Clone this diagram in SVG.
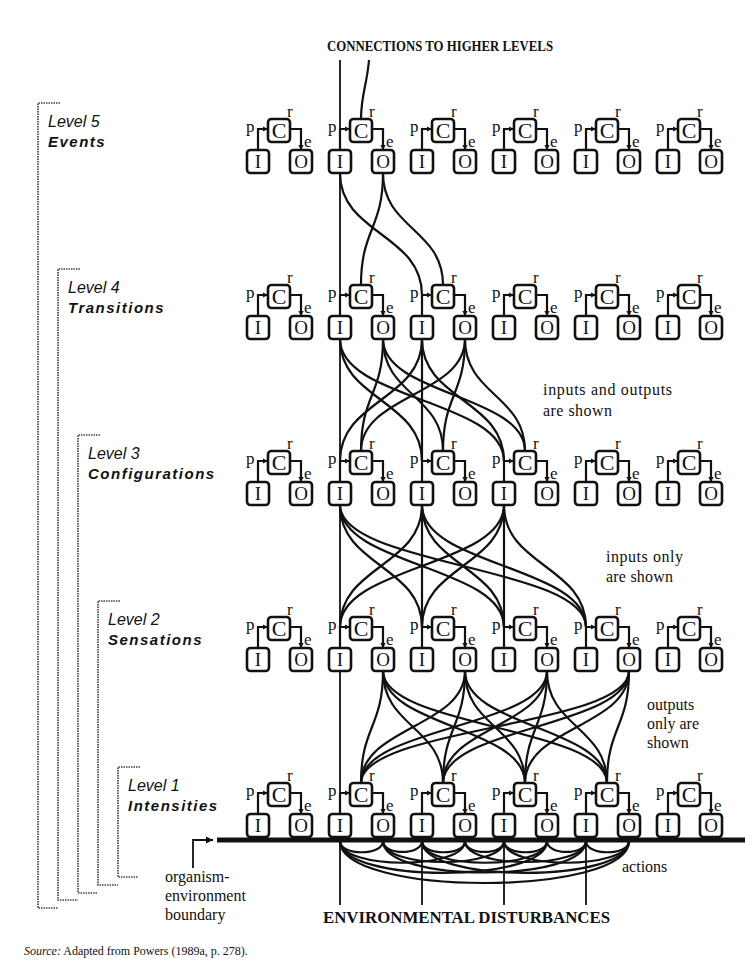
<svg xmlns="http://www.w3.org/2000/svg" width="745" height="965" viewBox="0 0 745 965">
<style>
  .b{fill:#fff;stroke:#111;stroke-width:2.6}
  .w{fill:none;stroke:#111;stroke-width:2.2;marker-start:url(#ah);marker-end:url(#ah)}
  .k{fill:none;stroke:#111;stroke-width:2.2}
  .t{fill:none;stroke:#111;stroke-width:1.8}
  .br{fill:none;stroke:#444;stroke-width:1.7;stroke-dasharray:1.5 1}
  .L{font-family:"Liberation Serif",serif;font-size:19px;text-anchor:middle;fill:#111}
  .c{font-size:22px}
  .s{font-family:"Liberation Serif",serif;font-size:17px;fill:#111}
  .lv{font-family:"Liberation Sans",sans-serif;font-style:italic;font-size:16px;fill:#111}
  .nm{font-family:"Liberation Sans",sans-serif;font-style:italic;font-weight:bold;font-size:15px;letter-spacing:1.5px;fill:#111}
  .cap{font-family:"Liberation Serif",serif;font-weight:bold;fill:#111}
  .note{font-family:"Liberation Serif",serif;font-size:16px;fill:#111}
</style>
<defs>
  <marker id="ah" markerWidth="7" markerHeight="7" refX="5" refY="3" orient="auto-start-reverse" markerUnits="userSpaceOnUse">
    <path d="M0,0.4L5,3L0,5.6z" fill="#111"/>
  </marker>
  <marker id="ah2" markerWidth="9" markerHeight="9" refX="7" refY="4" orient="auto" markerUnits="userSpaceOnUse">
    <path d="M0,0.5L7,4L0,7.5z" fill="#111"/>
  </marker>
</defs>
<rect width="745" height="965" fill="#fff"/>

<!-- level brackets -->
<g id="brackets">
  <path class="br" d="M60,103H38V908H58"/>
  <path class="br" d="M80,269H58V900H78"/>
  <path class="br" d="M100,435H78V893H98"/>
  <path class="br" d="M120,601H98V885H118"/>
  <path class="br" d="M140,767H118V877H138"/>
</g>

<!-- level names -->
<g id="level-labels">
  <text class="lv" x="48" y="127">Level 5</text>
  <text class="nm" x="48" y="147">Events</text>
  <text class="lv" x="68" y="293">Level 4</text>
  <text class="nm" x="68" y="313">Transitions</text>
  <text class="lv" x="88" y="459">Level 3</text>
  <text class="nm" x="88" y="479">Configurations</text>
  <text class="lv" x="108" y="625">Level 2</text>
  <text class="nm" x="108" y="645">Sensations</text>
  <text class="lv" x="128" y="791">Level 1</text>
  <text class="nm" x="128" y="811">Intensities</text>
</g>

<!-- captions -->
<g id="captions">
  <text class="cap" x="327" y="51" font-size="14.5" textLength="226" lengthAdjust="spacingAndGlyphs">CONNECTIONS TO HIGHER LEVELS</text>
  <text class="cap" x="323" y="923" font-size="16" textLength="287" lengthAdjust="spacingAndGlyphs">ENVIRONMENTAL DISTURBANCES</text>
  <text class="note" x="543" y="395" textLength="129" lengthAdjust="spacing">inputs and outputs</text>
  <text class="note" x="543" y="416" textLength="69" lengthAdjust="spacing">are shown</text>
  <text class="note" x="606" y="562" textLength="77" lengthAdjust="spacing">inputs only</text>
  <text class="note" x="606" y="582" textLength="67" lengthAdjust="spacing">are shown</text>
  <text class="note" x="647" y="710">outputs</text>
  <text class="note" x="647" y="729">only are</text>
  <text class="note" x="647" y="748">shown</text>
  <text class="note" x="622" y="872">actions</text>
  <text class="note" x="165" y="882">organism-</text>
  <text class="note" x="165" y="901">environment</text>
  <text class="note" x="165" y="920">boundary</text>
</g>

<!-- connectors between levels -->
<g id="connectors">
  <path class="t" d="M340,60V905"/>
  <path class="k" d="M369,60C367,85 361,95 361,119"/>
  <!-- level 5 to level 4 -->
  <path class="k" d="M340,173C340,234 422,234 422,295"/>
  <path class="k" d="M383,173C383,229 361,229 361,285"/>
  <path class="k" d="M383,173C383,229 443,229 443,285"/>
  <!-- level 4 to level 3 -->
  <path class="k" d="M340,339C340,400 422,400 422,461"/>
  <path class="k" d="M340,339C340,400 504,400 504,461"/>
  <path class="k" d="M422,339C422,400 340,400 340,461"/>
  <path class="k" d="M422,339V461"/>
  <path class="k" d="M422,339C422,400 504,400 504,461"/>
  <path class="k" d="M383,339C383,395 361,395 361,451"/>
  <path class="k" d="M383,339C383,395 443,395 443,451"/>
  <path class="k" d="M383,339C383,395 525,395 525,451"/>
  <path class="k" d="M465,339C465,395 361,395 361,451"/>
  <path class="k" d="M465,339C465,395 443,395 443,451"/>
  <path class="k" d="M465,339C465,395 525,395 525,451"/>
  <!-- level 3 to level 2 -->
  <path class="k" d="M340,505C340,566 422,566 422,627"/>
  <path class="k" d="M340,505C340,566 504,566 504,627"/>
  <path class="k" d="M340,505C340,566 586,566 586,627"/>
  <path class="k" d="M422,505C422,566 340,566 340,627"/>
  <path class="k" d="M422,505V627"/>
  <path class="k" d="M422,505C422,566 504,566 504,627"/>
  <path class="k" d="M422,505C422,566 586,566 586,627"/>
  <path class="k" d="M504,505C504,566 340,566 340,627"/>
  <path class="k" d="M504,505C504,566 422,566 422,627"/>
  <path class="k" d="M504,505V627"/>
  <path class="k" d="M504,505C504,566 586,566 586,627"/>
  <!-- level 2 to level 1 -->
  <path class="k" d="M383,671C383,727 361,727 361,783"/>
  <path class="k" d="M383,671C383,727 443,727 443,783"/>
  <path class="k" d="M383,671C383,727 525,727 525,783"/>
  <path class="k" d="M383,671C383,727 607,727 607,783"/>
  <path class="k" d="M465,671C465,727 361,727 361,783"/>
  <path class="k" d="M465,671C465,727 443,727 443,783"/>
  <path class="k" d="M465,671C465,727 525,727 525,783"/>
  <path class="k" d="M465,671C465,727 607,727 607,783"/>
  <path class="k" d="M547,671C547,727 361,727 361,783"/>
  <path class="k" d="M547,671C547,727 443,727 443,783"/>
  <path class="k" d="M547,671C547,727 525,727 525,783"/>
  <path class="k" d="M547,671C547,727 607,727 607,783"/>
  <path class="k" d="M629,671C629,727 361,727 361,783"/>
  <path class="k" d="M629,671C629,727 443,727 443,783"/>
  <path class="k" d="M629,671C629,727 525,727 525,783"/>
  <path class="k" d="M629,671C629,727 607,727 607,783"/>
  <!-- actions through the environment -->
  <path class="k" d="M340,841C340,856 383,856 383,841"/>
  <path class="k" d="M422,841C422,856 465,856 465,841"/>
  <path class="k" d="M504,841C504,856 547,856 547,841"/>
  <path class="k" d="M586,841C586,856 629,856 629,841"/>
  <path class="k" d="M383,841C383,855.5 422,855.5 422,841"/>
  <path class="k" d="M465,841C465,855.5 504,855.5 504,841"/>
  <path class="k" d="M547,841C547,855.5 586,855.5 586,841"/>
  <path class="k" d="M340,841C340,870 465,870 465,841"/>
  <path class="k" d="M422,841C422,870 547,870 547,841"/>
  <path class="k" d="M504,841C504,870 629,870 629,841"/>
  <path class="k" d="M383,841C383,869 504,869 504,841"/>
  <path class="k" d="M465,841C465,869 586,869 586,841"/>
  <path class="k" d="M340,841C340,883.5 547,883.5 547,841"/>
  <path class="k" d="M422,841C422,883.5 629,883.5 629,841"/>
  <path class="k" d="M383,841C383,883 586,883 586,841"/>
  <path class="k" d="M340,841C340,897 629,897 629,841"/>
  <!-- environmental disturbances -->
  <path class="t" d="M422,842V905M504,842V905M586,842V905"/>
  <!-- boundary pointer -->
  <path class="t" d="M193,868V840H213" marker-end="url(#ah2)"/>
</g>

<!-- level 5 -->
<g id="l5-u1" transform="translate(258,119)"><path class="w" d="M10,10H0V31M32,10H43V31"/><rect class="b" x="10" y="0" width="22" height="23" rx="3.5"/><rect class="b" x="-11" y="31" width="22" height="23" rx="3.5"/><rect class="b" x="32" y="31" width="22" height="23" rx="3.5"/><text class="L c" x="21" y="19">C</text><text class="L" x="0" y="49">I</text><text class="L" x="43" y="49">O</text><text class="s" x="-12" y="13">p</text><text class="s" x="29" y="-2">r</text><text class="s" x="46" y="28">e</text></g>
<g id="l5-u2" transform="translate(340,119)"><path class="w" d="M10,10H0V31M32,10H43V31"/><rect class="b" x="10" y="0" width="22" height="23" rx="3.5"/><rect class="b" x="-11" y="31" width="22" height="23" rx="3.5"/><rect class="b" x="32" y="31" width="22" height="23" rx="3.5"/><text class="L c" x="21" y="19">C</text><text class="L" x="0" y="49">I</text><text class="L" x="43" y="49">O</text><text class="s" x="-12" y="13">p</text><text class="s" x="29" y="-2">r</text><text class="s" x="46" y="28">e</text></g>
<g id="l5-u3" transform="translate(422,119)"><path class="w" d="M10,10H0V31M32,10H43V31"/><rect class="b" x="10" y="0" width="22" height="23" rx="3.5"/><rect class="b" x="-11" y="31" width="22" height="23" rx="3.5"/><rect class="b" x="32" y="31" width="22" height="23" rx="3.5"/><text class="L c" x="21" y="19">C</text><text class="L" x="0" y="49">I</text><text class="L" x="43" y="49">O</text><text class="s" x="-12" y="13">p</text><text class="s" x="29" y="-2">r</text><text class="s" x="46" y="28">e</text></g>
<g id="l5-u4" transform="translate(504,119)"><path class="w" d="M10,10H0V31M32,10H43V31"/><rect class="b" x="10" y="0" width="22" height="23" rx="3.5"/><rect class="b" x="-11" y="31" width="22" height="23" rx="3.5"/><rect class="b" x="32" y="31" width="22" height="23" rx="3.5"/><text class="L c" x="21" y="19">C</text><text class="L" x="0" y="49">I</text><text class="L" x="43" y="49">O</text><text class="s" x="-12" y="13">p</text><text class="s" x="29" y="-2">r</text><text class="s" x="46" y="28">e</text></g>
<g id="l5-u5" transform="translate(586,119)"><path class="w" d="M10,10H0V31M32,10H43V31"/><rect class="b" x="10" y="0" width="22" height="23" rx="3.5"/><rect class="b" x="-11" y="31" width="22" height="23" rx="3.5"/><rect class="b" x="32" y="31" width="22" height="23" rx="3.5"/><text class="L c" x="21" y="19">C</text><text class="L" x="0" y="49">I</text><text class="L" x="43" y="49">O</text><text class="s" x="-12" y="13">p</text><text class="s" x="29" y="-2">r</text><text class="s" x="46" y="28">e</text></g>
<g id="l5-u6" transform="translate(668,119)"><path class="w" d="M10,10H0V31M32,10H43V31"/><rect class="b" x="10" y="0" width="22" height="23" rx="3.5"/><rect class="b" x="-11" y="31" width="22" height="23" rx="3.5"/><rect class="b" x="32" y="31" width="22" height="23" rx="3.5"/><text class="L c" x="21" y="19">C</text><text class="L" x="0" y="49">I</text><text class="L" x="43" y="49">O</text><text class="s" x="-12" y="13">p</text><text class="s" x="29" y="-2">r</text><text class="s" x="46" y="28">e</text></g>

<!-- level 4 -->
<g id="l4-u1" transform="translate(258,285)"><path class="w" d="M10,10H0V31M32,10H43V31"/><rect class="b" x="10" y="0" width="22" height="23" rx="3.5"/><rect class="b" x="-11" y="31" width="22" height="23" rx="3.5"/><rect class="b" x="32" y="31" width="22" height="23" rx="3.5"/><text class="L c" x="21" y="19">C</text><text class="L" x="0" y="49">I</text><text class="L" x="43" y="49">O</text><text class="s" x="-12" y="13">p</text><text class="s" x="29" y="-2">r</text><text class="s" x="46" y="28">e</text></g>
<g id="l4-u2" transform="translate(340,285)"><path class="w" d="M10,10H0V31M32,10H43V31"/><rect class="b" x="10" y="0" width="22" height="23" rx="3.5"/><rect class="b" x="-11" y="31" width="22" height="23" rx="3.5"/><rect class="b" x="32" y="31" width="22" height="23" rx="3.5"/><text class="L c" x="21" y="19">C</text><text class="L" x="0" y="49">I</text><text class="L" x="43" y="49">O</text><text class="s" x="-12" y="13">p</text><text class="s" x="29" y="-2">r</text><text class="s" x="46" y="28">e</text></g>
<g id="l4-u3" transform="translate(422,285)"><path class="w" d="M10,10H0V31M32,10H43V31"/><rect class="b" x="10" y="0" width="22" height="23" rx="3.5"/><rect class="b" x="-11" y="31" width="22" height="23" rx="3.5"/><rect class="b" x="32" y="31" width="22" height="23" rx="3.5"/><text class="L c" x="21" y="19">C</text><text class="L" x="0" y="49">I</text><text class="L" x="43" y="49">O</text><text class="s" x="-12" y="13">p</text><text class="s" x="29" y="-2">r</text><text class="s" x="46" y="28">e</text></g>
<g id="l4-u4" transform="translate(504,285)"><path class="w" d="M10,10H0V31M32,10H43V31"/><rect class="b" x="10" y="0" width="22" height="23" rx="3.5"/><rect class="b" x="-11" y="31" width="22" height="23" rx="3.5"/><rect class="b" x="32" y="31" width="22" height="23" rx="3.5"/><text class="L c" x="21" y="19">C</text><text class="L" x="0" y="49">I</text><text class="L" x="43" y="49">O</text><text class="s" x="-12" y="13">p</text><text class="s" x="29" y="-2">r</text><text class="s" x="46" y="28">e</text></g>
<g id="l4-u5" transform="translate(586,285)"><path class="w" d="M10,10H0V31M32,10H43V31"/><rect class="b" x="10" y="0" width="22" height="23" rx="3.5"/><rect class="b" x="-11" y="31" width="22" height="23" rx="3.5"/><rect class="b" x="32" y="31" width="22" height="23" rx="3.5"/><text class="L c" x="21" y="19">C</text><text class="L" x="0" y="49">I</text><text class="L" x="43" y="49">O</text><text class="s" x="-12" y="13">p</text><text class="s" x="29" y="-2">r</text><text class="s" x="46" y="28">e</text></g>
<g id="l4-u6" transform="translate(668,285)"><path class="w" d="M10,10H0V31M32,10H43V31"/><rect class="b" x="10" y="0" width="22" height="23" rx="3.5"/><rect class="b" x="-11" y="31" width="22" height="23" rx="3.5"/><rect class="b" x="32" y="31" width="22" height="23" rx="3.5"/><text class="L c" x="21" y="19">C</text><text class="L" x="0" y="49">I</text><text class="L" x="43" y="49">O</text><text class="s" x="-12" y="13">p</text><text class="s" x="29" y="-2">r</text><text class="s" x="46" y="28">e</text></g>

<!-- level 3 -->
<g id="l3-u1" transform="translate(258,451)"><path class="w" d="M10,10H0V31M32,10H43V31"/><rect class="b" x="10" y="0" width="22" height="23" rx="3.5"/><rect class="b" x="-11" y="31" width="22" height="23" rx="3.5"/><rect class="b" x="32" y="31" width="22" height="23" rx="3.5"/><text class="L c" x="21" y="19">C</text><text class="L" x="0" y="49">I</text><text class="L" x="43" y="49">O</text><text class="s" x="-12" y="13">p</text><text class="s" x="29" y="-2">r</text><text class="s" x="46" y="28">e</text></g>
<g id="l3-u2" transform="translate(340,451)"><path class="w" d="M10,10H0V31M32,10H43V31"/><rect class="b" x="10" y="0" width="22" height="23" rx="3.5"/><rect class="b" x="-11" y="31" width="22" height="23" rx="3.5"/><rect class="b" x="32" y="31" width="22" height="23" rx="3.5"/><text class="L c" x="21" y="19">C</text><text class="L" x="0" y="49">I</text><text class="L" x="43" y="49">O</text><text class="s" x="-12" y="13">p</text><text class="s" x="29" y="-2">r</text><text class="s" x="46" y="28">e</text></g>
<g id="l3-u3" transform="translate(422,451)"><path class="w" d="M10,10H0V31M32,10H43V31"/><rect class="b" x="10" y="0" width="22" height="23" rx="3.5"/><rect class="b" x="-11" y="31" width="22" height="23" rx="3.5"/><rect class="b" x="32" y="31" width="22" height="23" rx="3.5"/><text class="L c" x="21" y="19">C</text><text class="L" x="0" y="49">I</text><text class="L" x="43" y="49">O</text><text class="s" x="-12" y="13">p</text><text class="s" x="29" y="-2">r</text><text class="s" x="46" y="28">e</text></g>
<g id="l3-u4" transform="translate(504,451)"><path class="w" d="M10,10H0V31M32,10H43V31"/><rect class="b" x="10" y="0" width="22" height="23" rx="3.5"/><rect class="b" x="-11" y="31" width="22" height="23" rx="3.5"/><rect class="b" x="32" y="31" width="22" height="23" rx="3.5"/><text class="L c" x="21" y="19">C</text><text class="L" x="0" y="49">I</text><text class="L" x="43" y="49">O</text><text class="s" x="-12" y="13">p</text><text class="s" x="29" y="-2">r</text><text class="s" x="46" y="28">e</text></g>
<g id="l3-u5" transform="translate(586,451)"><path class="w" d="M10,10H0V31M32,10H43V31"/><rect class="b" x="10" y="0" width="22" height="23" rx="3.5"/><rect class="b" x="-11" y="31" width="22" height="23" rx="3.5"/><rect class="b" x="32" y="31" width="22" height="23" rx="3.5"/><text class="L c" x="21" y="19">C</text><text class="L" x="0" y="49">I</text><text class="L" x="43" y="49">O</text><text class="s" x="-12" y="13">p</text><text class="s" x="29" y="-2">r</text><text class="s" x="46" y="28">e</text></g>
<g id="l3-u6" transform="translate(668,451)"><path class="w" d="M10,10H0V31M32,10H43V31"/><rect class="b" x="10" y="0" width="22" height="23" rx="3.5"/><rect class="b" x="-11" y="31" width="22" height="23" rx="3.5"/><rect class="b" x="32" y="31" width="22" height="23" rx="3.5"/><text class="L c" x="21" y="19">C</text><text class="L" x="0" y="49">I</text><text class="L" x="43" y="49">O</text><text class="s" x="-12" y="13">p</text><text class="s" x="29" y="-2">r</text><text class="s" x="46" y="28">e</text></g>

<!-- level 2 -->
<g id="l2-u1" transform="translate(258,617)"><path class="w" d="M10,10H0V31M32,10H43V31"/><rect class="b" x="10" y="0" width="22" height="23" rx="3.5"/><rect class="b" x="-11" y="31" width="22" height="23" rx="3.5"/><rect class="b" x="32" y="31" width="22" height="23" rx="3.5"/><text class="L c" x="21" y="19">C</text><text class="L" x="0" y="49">I</text><text class="L" x="43" y="49">O</text><text class="s" x="-12" y="13">p</text><text class="s" x="29" y="-2">r</text><text class="s" x="46" y="28">e</text></g>
<g id="l2-u2" transform="translate(340,617)"><path class="w" d="M10,10H0V31M32,10H43V31"/><rect class="b" x="10" y="0" width="22" height="23" rx="3.5"/><rect class="b" x="-11" y="31" width="22" height="23" rx="3.5"/><rect class="b" x="32" y="31" width="22" height="23" rx="3.5"/><text class="L c" x="21" y="19">C</text><text class="L" x="0" y="49">I</text><text class="L" x="43" y="49">O</text><text class="s" x="-12" y="13">p</text><text class="s" x="29" y="-2">r</text><text class="s" x="46" y="28">e</text></g>
<g id="l2-u3" transform="translate(422,617)"><path class="w" d="M10,10H0V31M32,10H43V31"/><rect class="b" x="10" y="0" width="22" height="23" rx="3.5"/><rect class="b" x="-11" y="31" width="22" height="23" rx="3.5"/><rect class="b" x="32" y="31" width="22" height="23" rx="3.5"/><text class="L c" x="21" y="19">C</text><text class="L" x="0" y="49">I</text><text class="L" x="43" y="49">O</text><text class="s" x="-12" y="13">p</text><text class="s" x="29" y="-2">r</text><text class="s" x="46" y="28">e</text></g>
<g id="l2-u4" transform="translate(504,617)"><path class="w" d="M10,10H0V31M32,10H43V31"/><rect class="b" x="10" y="0" width="22" height="23" rx="3.5"/><rect class="b" x="-11" y="31" width="22" height="23" rx="3.5"/><rect class="b" x="32" y="31" width="22" height="23" rx="3.5"/><text class="L c" x="21" y="19">C</text><text class="L" x="0" y="49">I</text><text class="L" x="43" y="49">O</text><text class="s" x="-12" y="13">p</text><text class="s" x="29" y="-2">r</text><text class="s" x="46" y="28">e</text></g>
<g id="l2-u5" transform="translate(586,617)"><path class="w" d="M10,10H0V31M32,10H43V31"/><rect class="b" x="10" y="0" width="22" height="23" rx="3.5"/><rect class="b" x="-11" y="31" width="22" height="23" rx="3.5"/><rect class="b" x="32" y="31" width="22" height="23" rx="3.5"/><text class="L c" x="21" y="19">C</text><text class="L" x="0" y="49">I</text><text class="L" x="43" y="49">O</text><text class="s" x="-12" y="13">p</text><text class="s" x="29" y="-2">r</text><text class="s" x="46" y="28">e</text></g>
<g id="l2-u6" transform="translate(668,617)"><path class="w" d="M10,10H0V31M32,10H43V31"/><rect class="b" x="10" y="0" width="22" height="23" rx="3.5"/><rect class="b" x="-11" y="31" width="22" height="23" rx="3.5"/><rect class="b" x="32" y="31" width="22" height="23" rx="3.5"/><text class="L c" x="21" y="19">C</text><text class="L" x="0" y="49">I</text><text class="L" x="43" y="49">O</text><text class="s" x="-12" y="13">p</text><text class="s" x="29" y="-2">r</text><text class="s" x="46" y="28">e</text></g>

<!-- level 1 -->
<g id="l1-u1" transform="translate(258,783)"><path class="w" d="M10,10H0V31M32,10H43V31"/><rect class="b" x="10" y="0" width="22" height="23" rx="3.5"/><rect class="b" x="-11" y="31" width="22" height="23" rx="3.5"/><rect class="b" x="32" y="31" width="22" height="23" rx="3.5"/><text class="L c" x="21" y="19">C</text><text class="L" x="0" y="49">I</text><text class="L" x="43" y="49">O</text><text class="s" x="-12" y="13">p</text><text class="s" x="29" y="-2">r</text><text class="s" x="46" y="28">e</text></g>
<g id="l1-u2" transform="translate(340,783)"><path class="w" d="M10,10H0V31M32,10H43V31"/><rect class="b" x="10" y="0" width="22" height="23" rx="3.5"/><rect class="b" x="-11" y="31" width="22" height="23" rx="3.5"/><rect class="b" x="32" y="31" width="22" height="23" rx="3.5"/><text class="L c" x="21" y="19">C</text><text class="L" x="0" y="49">I</text><text class="L" x="43" y="49">O</text><text class="s" x="-12" y="13">p</text><text class="s" x="29" y="-2">r</text><text class="s" x="46" y="28">e</text></g>
<g id="l1-u3" transform="translate(422,783)"><path class="w" d="M10,10H0V31M32,10H43V31"/><rect class="b" x="10" y="0" width="22" height="23" rx="3.5"/><rect class="b" x="-11" y="31" width="22" height="23" rx="3.5"/><rect class="b" x="32" y="31" width="22" height="23" rx="3.5"/><text class="L c" x="21" y="19">C</text><text class="L" x="0" y="49">I</text><text class="L" x="43" y="49">O</text><text class="s" x="-12" y="13">p</text><text class="s" x="29" y="-2">r</text><text class="s" x="46" y="28">e</text></g>
<g id="l1-u4" transform="translate(504,783)"><path class="w" d="M10,10H0V31M32,10H43V31"/><rect class="b" x="10" y="0" width="22" height="23" rx="3.5"/><rect class="b" x="-11" y="31" width="22" height="23" rx="3.5"/><rect class="b" x="32" y="31" width="22" height="23" rx="3.5"/><text class="L c" x="21" y="19">C</text><text class="L" x="0" y="49">I</text><text class="L" x="43" y="49">O</text><text class="s" x="-12" y="13">p</text><text class="s" x="29" y="-2">r</text><text class="s" x="46" y="28">e</text></g>
<g id="l1-u5" transform="translate(586,783)"><path class="w" d="M10,10H0V31M32,10H43V31"/><rect class="b" x="10" y="0" width="22" height="23" rx="3.5"/><rect class="b" x="-11" y="31" width="22" height="23" rx="3.5"/><rect class="b" x="32" y="31" width="22" height="23" rx="3.5"/><text class="L c" x="21" y="19">C</text><text class="L" x="0" y="49">I</text><text class="L" x="43" y="49">O</text><text class="s" x="-12" y="13">p</text><text class="s" x="29" y="-2">r</text><text class="s" x="46" y="28">e</text></g>
<g id="l1-u6" transform="translate(668,783)"><path class="w" d="M10,10H0V31M32,10H43V31"/><rect class="b" x="10" y="0" width="22" height="23" rx="3.5"/><rect class="b" x="-11" y="31" width="22" height="23" rx="3.5"/><rect class="b" x="32" y="31" width="22" height="23" rx="3.5"/><text class="L c" x="21" y="19">C</text><text class="L" x="0" y="49">I</text><text class="L" x="43" y="49">O</text><text class="s" x="-12" y="13">p</text><text class="s" x="29" y="-2">r</text><text class="s" x="46" y="28">e</text></g>

<!-- organism-environment boundary -->
<path id="boundary" d="M217,840H745" stroke="#111" stroke-width="5" fill="none"/>

<text x="24" y="955" font-family="Liberation Serif,serif" font-size="12" fill="#111"><tspan font-style="italic">Source:</tspan>  Adapted from Powers (1989a, p. 278).</text>
</svg>
